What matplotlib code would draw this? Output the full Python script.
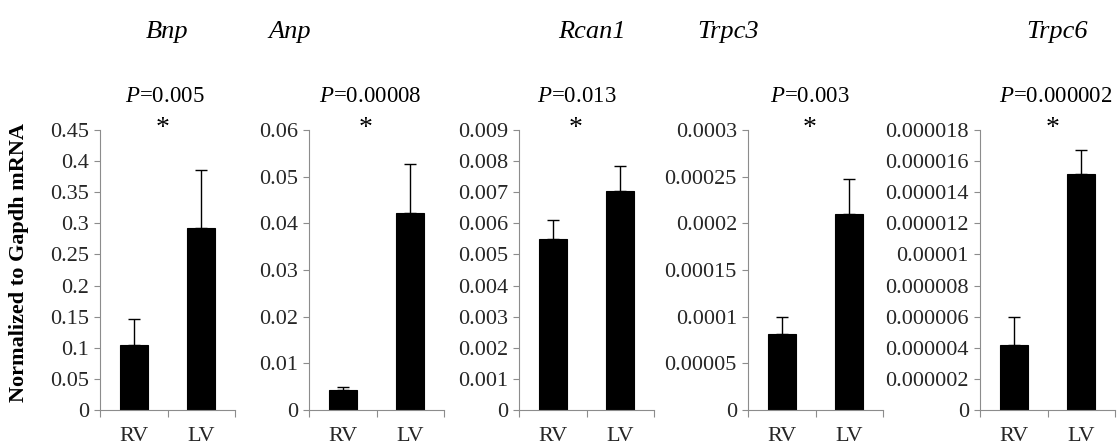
import matplotlib
matplotlib.use('Agg')
import matplotlib.pyplot as plt

genes = ['Bnp', 'Anp', 'Rcan1', 'Trpc3', 'Trpc6']
groups = ['RV', 'LV']
p_values = ['0.005', '0.00008', '0.013', '0.003', '0.000002']

# mean expression (RV, LV) and upper error
bnp_mean = [0.105, 0.293]
bnp_err = [0.041, 0.092]
anp_mean = [0.0042, 0.0423]
anp_err = [0.0007, 0.0104]
rcan1_mean = [0.0055, 0.00705]
rcan1_err = [0.0006, 0.0008]
trpc3_mean = [0.000081, 0.00021]
trpc3_err = [0.000019, 0.000038]
trpc6_mean = [0.0000042, 0.0000152]
trpc6_err = [0.0000018, 0.0000015]

y_max = [0.45, 0.06, 0.009, 0.0003, 0.000018]
y_step = [0.05, 0.01, 0.001, 0.00005, 0.000002]
y_dec = [2, 2, 3, 5, 6]

means = [bnp_mean, anp_mean, rcan1_mean, trpc3_mean, trpc6_mean]
errs = [bnp_err, anp_err, rcan1_err, trpc3_err, trpc6_err]


def tick_label(v, dec):
    s = '{:.{}f}'.format(v, dec).rstrip('0').rstrip('.')
    return s if s else '0'


plt.rcParams['font.family'] = 'Liberation Serif'
plt.rcParams['mathtext.fontset'] = 'custom'
plt.rcParams['mathtext.it'] = 'Liberation Serif:italic'
plt.rcParams['mathtext.rm'] = 'Liberation Serif'

W, H = 1118, 445
fig = plt.figure(figsize=(W / 100, H / 100), dpi=100)

# layout in pixels
ax_left = [100, 309, 519, 748, 980]
ax_w = 135
ax_top, ax_bot = 130, 410
title_x = [167, 290, 592, 728, 1057]
p_x = [165, 370, 577, 810, 1056]
star_x = [163, 366, 576, 810, 1053]

axis_col = '#8c8c8c'
text_col = '#262626'

for i in range(5):
    ax = fig.add_axes([ax_left[i] / W, (H - ax_bot) / H, ax_w / W, (ax_bot - ax_top) / H])
    ax.bar([0, 1], means[i], width=0.42, color='black', edgecolor='black', linewidth=0.8)
    ax.errorbar([0, 1], means[i], yerr=[[0, 0], errs[i]], fmt='none', ecolor='black',
                elinewidth=1.0, capsize=4.5, capthick=1.0)
    ax.set_xlim(-0.5, 1.5)
    ax.set_ylim(0, y_max[i])
    n = int(round(y_max[i] / y_step[i]))
    ticks = [k * y_step[i] for k in range(n + 1)]
    ax.set_yticks(ticks)
    ax.set_yticklabels([tick_label(t, y_dec[i]) for t in ticks])
    ax.set_xticks([-0.5, 0.5, 1.5])
    ax.set_xticklabels([])
    ax.set_xticks([0, 1], minor=True)
    ax.set_xticklabels(groups, minor=True)
    ax.tick_params(axis='x', which='major', direction='out', length=5, color=axis_col, width=0.8)
    ax.tick_params(axis='x', which='minor', length=0, pad=12, labelsize=16, labelcolor=text_col)
    ax.tick_params(axis='y', direction='out', length=4, color=axis_col, width=0.8,
                   labelsize=16, labelcolor=text_col, pad=4)
    for s in ['top', 'right']:
        ax.spines[s].set_visible(False)
    for s in ['left', 'bottom']:
        ax.spines[s].set_color(axis_col)
        ax.spines[s].set_linewidth(0.8)

    fig.text(title_x[i] / W, 1 - 38 / H, genes[i], fontsize=19, style='italic',
             ha='center', va='baseline', color='black')
    fig.text(p_x[i] / W, 1 - 102 / H, r'$\mathit{P}$=' + p_values[i], fontsize=16.5,
             ha='center', va='baseline', color='black')
    fig.text(star_x[i] / W, 1 - 128 / H, '*', fontsize=20, ha='center', va='center',
             color='black')

fig.text(19 / W, 1 - 262 / H, 'Normalized to Gapdh mRNA', rotation=90, fontsize=16,
         fontweight='bold', ha='center', va='center', color='black')

fig.savefig('out.png', dpi=100)
